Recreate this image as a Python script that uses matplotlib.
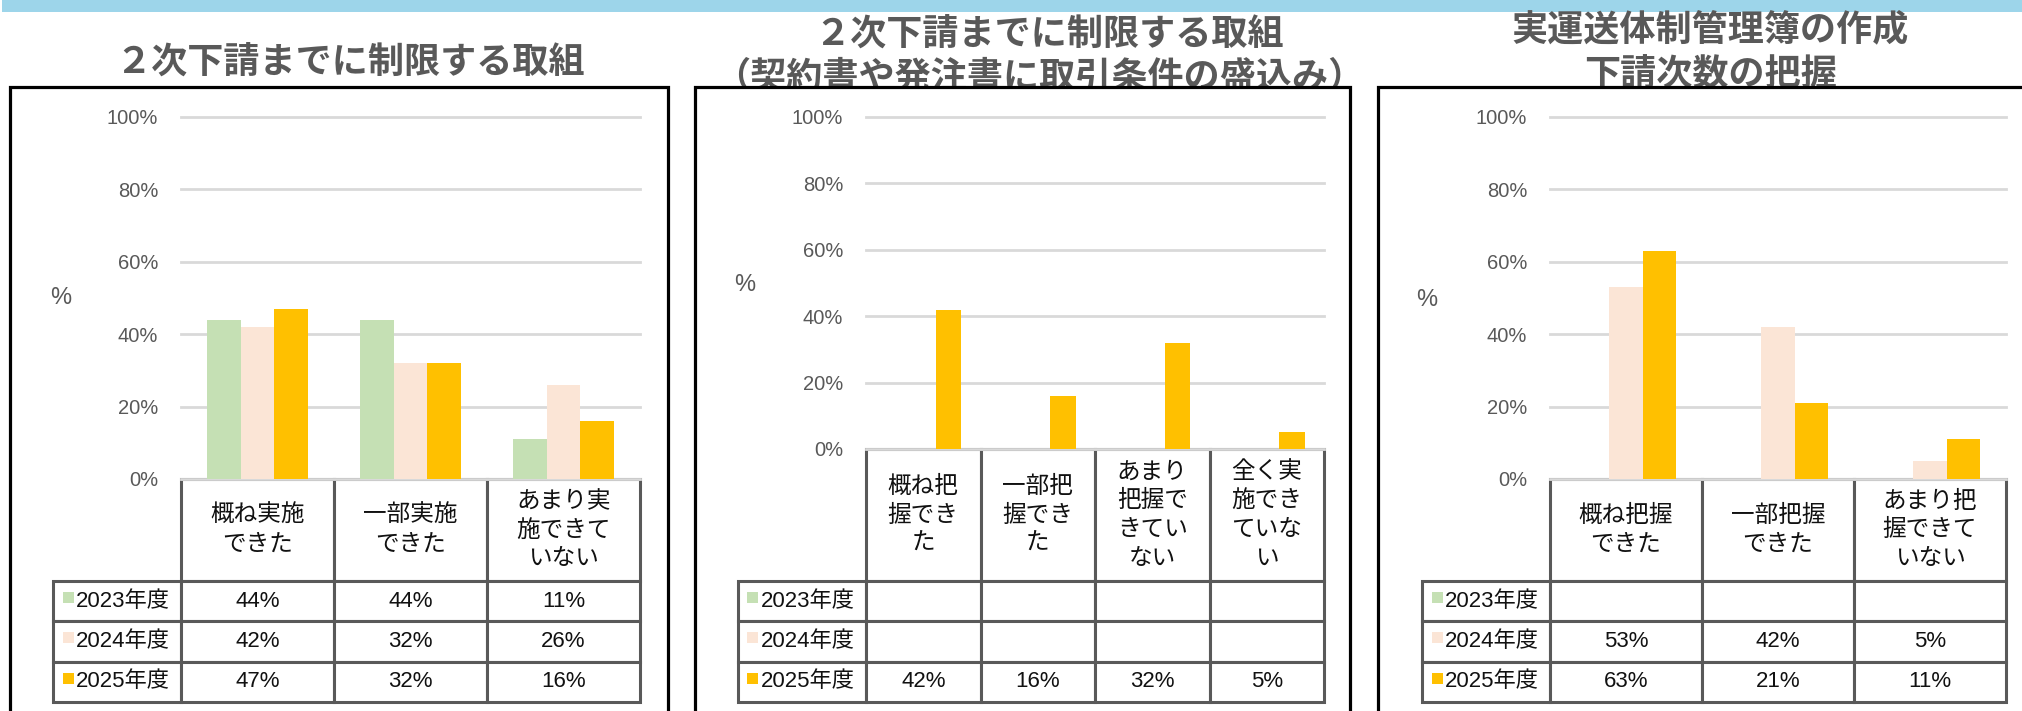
import matplotlib
matplotlib.use("Agg")
import matplotlib.pyplot as plt
from matplotlib.patches import Rectangle
from matplotlib import font_manager as fm

# ---------------- data ----------------
years = ['2023年度', '2024年度', '2025年度']
year_colors = ['#C5E0B4', '#FBE5D6', '#FFC000']

p1_title = ['２次下請までに制限する取組']
p1_cats = ['概ね実施\nできた', '一部実施\nできた', 'あまり実\n施できて\nいない']
p1_2023 = [44, 44, 11]
p1_2024 = [42, 32, 26]
p1_2025 = [47, 32, 16]

p2_title = ['２次下請までに制限する取組', '（契約書や発注書に取引条件の盛込み）']
p2_cats = ['概ね把\n握でき\nた', '一部把\n握でき\nた', 'あまり\n把握で\nきてい\nない', '全く実\n施でき\nていな\nい']
p2_2023 = [None, None, None, None]
p2_2024 = [None, None, None, None]
p2_2025 = [42, 16, 32, 5]

p3_title = ['実運送体制管理簿の作成', '下請次数の把握']
p3_cats = ['概ね把握\nできた', '一部把握\nできた', 'あまり把\n握できて\nいない']
p3_2023 = [None, None, None]
p3_2024 = [53, 42, 5]
p3_2025 = [63, 21, 11]

yticks = [0, 20, 40, 60, 80, 100]
ytick_labels = ['0%', '20%', '40%', '60%', '80%', '100%']

# ---------------- fonts ----------------
names = {f.name for f in fm.fontManager.ttflist}
narrow = 'Liberation Sans Narrow' if 'Liberation Sans Narrow' in names else 'Liberation Sans'
CJK = 'Noto Sans CJK JP'
plt.rcParams['font.family'] = [CJK, 'DejaVu Sans']

W, H = 2022, 711
fig = plt.figure(figsize=(W / 100, H / 100), dpi=100)
fig.patch.set_facecolor('white')


def fx(px):
    return px / W


def fy(py):
    return 1 - py / H


# top blue band
fig.add_artist(Rectangle((fx(2), fy(12)), fx(2100) - fx(2), 12 / H + 0.05,
                         transform=fig.transFigure, facecolor='#9DD5EA',
                         edgecolor='none', zorder=0.5))

panels = [
    dict(title=p1_title, cats=p1_cats, series=[p1_2023, p1_2024, p1_2025]),
    dict(title=p2_title, cats=p2_cats, series=[p2_2023, p2_2024, p2_2025]),
    dict(title=p3_title, cats=p3_cats, series=[p3_2023, p3_2024, p3_2025]),
]

layouts = [
    dict(frame=(9.5, 87, 668, 780), plot=(181, 640, 479, 117), tleft=55.5,
         hdr_bottom=581, tbottom=702, ylab=(61, 298), titles=[(350, 63)]),
    dict(frame=(695, 87, 1350, 780), plot=(866, 1324, 449, 117), tleft=739,
         hdr_bottom=581, tbottom=702, ylab=(745, 285), titles=[(1049, 35), (1039, 77)]),
    dict(frame=(1378, 87, 2060, 780), plot=(1550, 2006, 479, 117), tleft=1424,
         hdr_bottom=581, tbottom=702, ylab=(1427, 300), titles=[(1710, 30), (1711, 75)]),
]

GRAY = '#595959'
BAR_W = 0.22

for pan, lay in zip(panels, layouts):
    # title (drawn below the frame so the frame clips it)
    for line, (tx, ty) in zip(pan['title'], lay['titles']):
        fig.text(fx(tx), fy(ty), line, ha='center', va='center', fontsize=26,
                 fontweight='bold', color=GRAY, family=[CJK, 'DejaVu Sans'], zorder=0.8)

    # frame
    l, t, r, b = lay['frame']
    fig.add_artist(Rectangle((fx(l), fy(b)), fx(r) - fx(l), fy(t) - fy(b),
                             transform=fig.transFigure, facecolor='white',
                             edgecolor='black', lw=2.3, zorder=1))

    x0, x1, y0, y1 = lay['plot']
    ax = fig.add_axes([fx(x0), fy(y0), (x1 - x0) / W, (y0 - y1) / H])
    ax.set_zorder(2)
    ax.patch.set_visible(False)
    n = len(pan['cats'])
    ax.set_xlim(-0.5, n - 0.5)
    ax.set_ylim(0, 100)
    for sp in ax.spines.values():
        sp.set_visible(False)
    ax.set_axisbelow(True)
    ax.yaxis.grid(True, color='#D9D9D9', lw=2)
    for gl in ax.get_ygridlines():
        gl.set_clip_on(False)
    ax.set_xticks([])
    ax.set_yticks(yticks, labels=ytick_labels)
    ax.tick_params(axis='y', length=0, pad=16.5, labelsize=14.5, labelcolor=GRAY)
    for lbl in ax.get_yticklabels():
        lbl.set_family(['Liberation Sans', 'DejaVu Sans'])

    for s, (vals, col) in enumerate(zip(pan['series'], year_colors)):
        xs = [i + (s - 1) * BAR_W for i in range(n) if vals[i] is not None]
        hs = [v for v in vals if v is not None]
        if hs:
            ax.bar(xs, hs, width=BAR_W, color=col, zorder=2)

    # y label
    fig.text(fx(lay['ylab'][0]), fy(lay['ylab'][1]), '%', ha='center', va='center',
             fontsize=17, color=GRAY, family=['Liberation Sans', 'DejaVu Sans'], zorder=3)

    # table directly below the plot area (axes units)
    cell_text = [['' if v is None else f'{v}%' for v in vals] for vals in pan['series']]
    tl = lay['tleft']
    tb = lay['tbottom']
    hb = lay['hdr_bottom']
    span = y0 - y1
    pw = x1 - x0
    tab = ax.table(cellText=cell_text, rowLabels=years, colLabels=pan['cats'],
                   cellLoc='center', rowLoc='left', colLoc='center', loc='bottom')
    tab.auto_set_font_size(False)
    row_h = (tb - hb) / 3
    for (ri, ci), cell in tab.get_celld().items():
        cell.set_edgecolor(GRAY)
        cell.set_linewidth(2.2)
        cell.set_facecolor('white')
        cell.set_width(((x0 - tl) if ci == -1 else pw / n) / pw)
        cell.set_height(((hb - y0) if ri == 0 else row_h) / span)
        txt = cell.get_text()
        if ri == 0:
            txt.set_fontsize(17)
            txt.set_family([CJK, 'DejaVu Sans'])
            txt.set_linespacing(1.32)
            txt.set_color('#111111')
        else:
            txt.set_fontsize(16)
            txt.set_family([narrow, CJK, 'DejaVu Sans'])
            txt.set_color('#111111')
        if ci == -1:
            cell.PAD = 0.18

    # legend keys in row-label cells
    for k, col in enumerate(year_colors):
        top = hb + k * row_h + 11
        fig.add_artist(Rectangle((fx(tl + 7.5), fy(top + 11)), 11 / W, 11 / H,
                                 transform=fig.transFigure, facecolor=col,
                                 edgecolor='none', zorder=5))

fig.savefig('out.png', dpi=100, facecolor='white')
